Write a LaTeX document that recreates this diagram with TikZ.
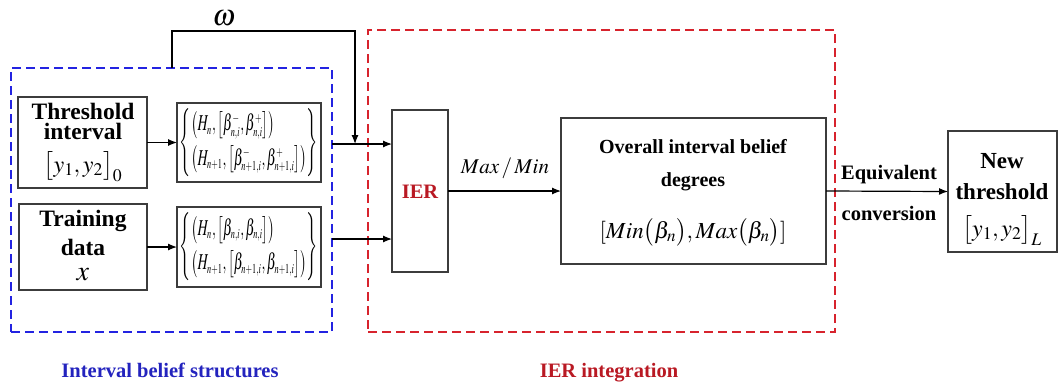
\documentclass[tikz,border=0pt]{standalone}
\usepackage{mathptmx}
\usepackage{graphicx}
\usepackage{fontspec}
\setmainfont{Liberation Serif}
\usetikzlibrary{arrows.meta}
\definecolor{blueC}{RGB}{35,35,225}
\definecolor{redC}{RGB}{215,35,45}
\definecolor{ierC}{RGB}{185,25,35}
\definecolor{titleblue}{RGB}{35,35,190}
\definecolor{boxC}{RGB}{60,60,60}
\newcommand{\tinysc}[1]{{\scriptscriptstyle #1}}
\begin{document}
\begin{tikzpicture}[x=1pt,y=-1pt,
  box/.style={draw=boxC,line width=1.2pt,anchor=north west,inner sep=0pt,outer sep=0pt},
  grp/.style={dashed,dash pattern=on 9pt off 5pt,line width=1.5pt,anchor=north west,inner sep=0pt,outer sep=0pt},
  lbl/.style={anchor=base,inner sep=0pt,font=\fontsize{22}{26}\selectfont\bfseries},
  mlbl/.style={anchor=base,inner sep=0pt,font=\fontsize{22}{26}\selectfont},
  arr/.style={line width=1.2pt,-{Latex[length=9pt,width=7pt]}},
  ln/.style={line width=1.2pt}]
\useasboundingbox (0,0) rectangle (1060,386);
% group boxes
\node[grp,draw=blueC,minimum width=321pt,minimum height=264pt] (bluebox) at (11,68) {};
\node[grp,draw=redC,minimum width=467pt,minimum height=302pt] (redbox) at (368,30) {};
% boxes
\node[box,minimum width=129pt,minimum height=91pt] (thresh) at (18,97) {};
\node[box,minimum width=128pt,minimum height=86pt] (train) at (19,204) {};
\node[box,minimum width=144pt,minimum height=79pt] (bel1) at (177,103) {};
\node[box,minimum width=144pt,minimum height=80pt] (bel2) at (177,207) {};
\node[box,minimum width=56pt,minimum height=162pt] (ier) at (392,110) {};
\node[box,minimum width=265pt,minimum height=146pt] (overall) at (561,118) {};
\node[box,minimum width=109pt,minimum height=121pt] (newth) at (948,131) {};
% texts in threshold box
\node[lbl,font=\fontsize{23.5}{26}\selectfont\bfseries] (t1) at (83,119) {Threshold};
\node[lbl,font=\fontsize{23.5}{26}\selectfont\bfseries] (t2) at (83,139) {interval};
\node[mlbl,font=\fontsize{24}{26}\selectfont] (t3) at (83,172) {$\bigl[y_1,y_2\bigr]_0$};
\node[lbl,font=\fontsize{23.5}{26}\selectfont\bfseries] (d1) at (83,226) {Training};
\node[lbl,font=\fontsize{23.5}{26}\selectfont\bfseries] (d2) at (83,255) {data};
\node[mlbl,font=\fontsize{28}{30}\selectfont] (d3) at (83,280) {$x$};
% belief contents
\node[inner sep=0pt] (b1) at (bel1.center) {\resizebox*{138pt}{68pt}{$\left\{\begin{array}{@{}l@{}}\bigl(H_{\tinysc{n}},\bigl[\beta^{\tinysc{-}}_{\tinysc{n,i}},\beta^{\tinysc{+}}_{\tinysc{n,i}}\bigr]\bigr)\\[3pt] \bigl(H_{\tinysc{n+1}},\bigl[\beta^{\tinysc{-}}_{\tinysc{n+1,i}},\beta^{\tinysc{+}}_{\tinysc{n+1,i}}\bigr]\bigr)\end{array}\right\}$}};
\node[inner sep=0pt] (b2) at (bel2.center) {\resizebox*{138pt}{68pt}{$\left\{\begin{array}{@{}l@{}}\bigl(H_{\tinysc{n}},\bigl[\beta_{\tinysc{n,i}},\beta_{\tinysc{n,i}}\bigr]\bigr)\\[3pt] \bigl(H_{\tinysc{n+1}},\bigl[\beta_{\tinysc{n+1,i}},\beta_{\tinysc{n+1,i}}\bigr]\bigr)\end{array}\right\}$}};
% IER
\node[lbl,font=\fontsize{20.5}{24}\selectfont\bfseries,text=ierC] (iert) at (420,198) {IER};
% overall
\node[lbl,font=\fontsize{20}{24}\selectfont\bfseries] (o1) at (693,153) {Overall interval belief};
\node[lbl,font=\fontsize{20}{24}\selectfont\bfseries] (o2) at (693,186) {degrees};
\node[mlbl,font=\fontsize{23}{26}\selectfont] (o3) at (693,238) {$[Min\bigl(\beta_n\bigr),Max\bigl(\beta_n\bigr)]$};
% new threshold
\node[lbl,font=\fontsize{23}{26}\selectfont\bfseries] (n1) at (1002,168) {New};
\node[lbl,font=\fontsize{23}{26}\selectfont\bfseries] (n2) at (1002,199) {threshold};
\node[mlbl,font=\fontsize{24}{26}\selectfont] (n3) at (1002,236) {$\bigl[y_1,y_2\bigr]_L$};
% labels
\node[mlbl,font=\fontsize{21}{24}\selectfont] (mm) at (505,173) {$Max\,/\,Min$};
\node[lbl,font=\fontsize{20.5}{24}\selectfont\bfseries] (eq1) at (889,179) {Equivalent};
\node[lbl,font=\fontsize{20.5}{24}\selectfont\bfseries] (eq2) at (889,220) {conversion};
\node[mlbl,font=\fontsize{30}{32}\selectfont] (om) at (224,25) {$\omega$};
\node[lbl,font=\fontsize{20.5}{24}\selectfont\bfseries,text=titleblue] (tb) at (170,377) {Interval belief structures};
\node[lbl,font=\fontsize{20.5}{24}\selectfont\bfseries,text=ierC] (tr) at (609,377) {IER integration};
% connectors
\coordinate (s1) at (332,144);
\coordinate (s2) at (332,239);
\coordinate (w0) at (172,68);
\coordinate (w1) at (172,31);
\coordinate (w2) at (355,31);
\coordinate (w3) at (355,144);
\draw[arr] (thresh.east) -- (bel1.west);
\draw[arr] (train.east) -- (bel2.west);
\draw[arr] (s1) -- (s1 -| ier.west);
\draw[arr] (s2) -- (s2 -| ier.west);
\draw[arr] (w0) -- (w1) -- (w2) -- (w3);
\draw[arr] (ier.east) -- (overall.west);
\draw[arr] (overall.east) -- (newth.west);
\end{tikzpicture}
\end{document}
